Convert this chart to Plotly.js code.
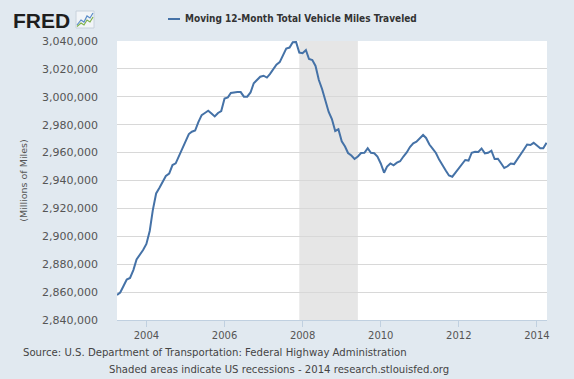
<!DOCTYPE html>
<html>
<head>
<meta charset="utf-8">
<script src="https://cdn.plot.ly/plotly-3.0.1.min.js"></script>
<style>html,body{margin:0;padding:0;background:#e1e9f0;}#chart{width:574px;height:379px;}</style>
</head>
<body>
<div id="chart"></div>
<script>
// Data: monthly moving 12-month total vehicle miles traveled (millions of miles), Apr 2003 - Apr 2014
const startMonth = '2003-04-01';
const vmt = [
  2857900, 2859700, 2864400, 2869000, 2870100, 2875800, 2883400, 2886600, 2890200, 2894500,
  2903800, 2918800, 2930700, 2934600, 2939300, 2943200, 2945000, 2951100, 2952300, 2957600,
  2962600, 2966900, 2973300, 2975000, 2975800, 2981900, 2986900, 2988400, 2990000, 2988000,
  2985900, 2988400, 2989800, 2998800, 2999600, 3002700, 3003200, 3003400, 3003400, 3000100,
  3000100, 3003100, 3009700, 3012000, 3014400, 3015100, 3013800, 3016300, 3019600, 3023100,
  3024900, 3029200, 3034600, 3035300, 3039100, 3039300, 3031700, 3031200, 3033500, 3027100,
  3026400, 3022100, 3012000, 3005600, 2997300, 2989100, 2984100, 2975500, 2976700, 2968100,
  2964400, 2959700, 2957900, 2955400, 2957200, 2959700, 2959900, 2963100, 2959900, 2959500,
  2957100, 2952200, 2945600, 2950000, 2952200, 2950900, 2952800, 2953800, 2957200, 2960100,
  2964000, 2966700, 2967800, 2970100, 2972600, 2970500, 2965800, 2962900, 2959700, 2955000,
  2950700, 2947200, 2943600, 2942700, 2945700, 2949000, 2952500, 2954700, 2954300, 2959900,
  2960600, 2960400, 2962900, 2959500, 2959900, 2961400, 2955400, 2955600, 2952200, 2949000,
  2950200, 2952200, 2951800, 2955000, 2958600, 2962200, 2965800, 2965400, 2967000, 2964700,
  2963100, 2963100, 2967100
];
const recessionStart = '2007-12-01';
const recessionEnd = '2009-06-01';
const xTickVals = ['2004-01-01','2006-01-01','2008-01-01','2010-01-01','2012-01-01','2014-01-01'];
const xTickText = ['2004','2006','2008','2010','2012','2014'];
const seriesName = 'Moving 12-Month Total Vehicle Miles Traveled';

// build month dates
function monthDates(start, n) {
  const [y0, m0] = start.split('-').map(Number);
  const out = [];
  for (let i = 0; i < n; i++) {
    const t = (m0 - 1) + i;
    const y = y0 + Math.floor(t / 12);
    const m = (t % 12) + 1;
    out.push(y + '-' + String(m).padStart(2, '0') + '-01');
  }
  return out;
}
const dates = monthDates(startMonth, vmt.length);

// layout geometry helpers (pixel -> paper) for decorations
const L = 117, R = 27, T = 41, B = 59, W = 574, H = 379;
const pw = W - L - R, ph = H - T - B;
const px = x => (x - L) / pw;
const py = y => (H - B - y) / ph;

const font = 'DejaVu Sans, Verdana, sans-serif';

const trace = {
  x: dates, y: vmt, type: 'scatter', mode: 'lines', name: seriesName,
  line: {color: '#4572a7', width: 2}, showlegend: false, hoverinfo: 'x+y'
};

function pathOf(pts) {
  return pts.map((p, i) => (i ? 'L ' : 'M ') + px(p[0]) + ' ' + py(p[1])).join(' ');
}
const iconPath1 = pathOf([[77,25],[81,20],[84,22],[87,16],[90,18],[93,13]]);
const iconPath2 = pathOf([[77,26.5],[81,23],[84,25],[87,20],[90,22],[93,17]]);

const layout = {
  width: W, height: H,
  margin: {l: L, r: R, t: T, b: B, pad: 0},
  paper_bgcolor: '#e1e9f0', plot_bgcolor: '#ffffff',
  showlegend: false,
  xaxis: {
    type: 'date', range: ['2003-04-01', '2014-04-05'],
    tickvals: xTickVals, ticktext: xTickText,
    showgrid: false, zeroline: false,
    showline: true, linecolor: '#c0d0e0', linewidth: 1,
    ticks: 'outside', ticklen: 6, tickcolor: '#c0d0e0', tickwidth: 1,
    tickfont: {family: font, size: 10, color: '#555555'},
    fixedrange: true
  },
  yaxis: {
    range: [2840000, 3040000], dtick: 20000, tick0: 2840000,
    tickformat: ',d',
    showgrid: true, gridcolor: '#d8d8d8', gridwidth: 1,
    zeroline: false, showline: false, ticks: '',
    ticklabelstandoff: 18,
    tickfont: {family: font, size: 11, color: '#555555'},
    title: {text: '(Millions of Miles)', font: {family: font, size: 9.5, color: '#555555'}, standoff: 12},
    fixedrange: true
  },
  shapes: [
    {type: 'rect', xref: 'x', yref: 'paper', x0: recessionStart, x1: recessionEnd, y0: 0, y1: 1,
     fillcolor: '#e6e6e6', line: {width: 0}, layer: 'below'},
    {type: 'line', xref: 'paper', yref: 'paper', x0: px(168), x1: px(180), y0: py(19), y1: py(19),
     line: {color: '#4572a7', width: 2}},
    {type: 'rect', xref: 'paper', yref: 'paper', x0: px(76), x1: px(94), y0: py(28), y1: py(11),
     fillcolor: '#f2f5f8', line: {color: '#c8d2dc', width: 1}},
    {type: 'path', xref: 'paper', yref: 'paper', path: iconPath2, line: {color: '#7fb24a', width: 1.2}},
    {type: 'path', xref: 'paper', yref: 'paper', path: iconPath1, line: {color: '#5b8cc8', width: 1.2}}
  ],
  annotations: [
    {text: '<b>FRED</b>', xref: 'paper', yref: 'paper', x: px(11), y: py(20), xanchor: 'left', yanchor: 'middle',
     showarrow: false, font: {family: 'Liberation Sans, Arial, sans-serif', size: 21, color: '#1e1e1e'}},
    {text: '<b>' + seriesName + '</b>', xref: 'paper', yref: 'paper', x: px(183), y: py(19), xanchor: 'left', yanchor: 'middle',
     showarrow: false, font: {family: 'DejaVu Sans Condensed, DejaVu Sans, sans-serif', size: 10, color: '#333333'}},
    {text: 'Source: U.S. Department of Transportation: Federal Highway Administration', xref: 'paper', yref: 'paper',
     x: px(21), y: py(353), xanchor: 'left', yanchor: 'middle', showarrow: false,
     font: {family: font, size: 10.15, color: '#444444'}},
    {text: 'Shaded areas indicate US recessions - 2014 research.stlouisfed.org', xref: 'paper', yref: 'paper',
     x: px(107), y: py(369), xanchor: 'left', yanchor: 'middle', showarrow: false,
     font: {family: font, size: 10.1, color: '#444444'}}
  ]
};

Plotly.newPlot('chart', [trace], layout, {displayModeBar: false, staticPlot: true});
</script>
</body>
</html>
